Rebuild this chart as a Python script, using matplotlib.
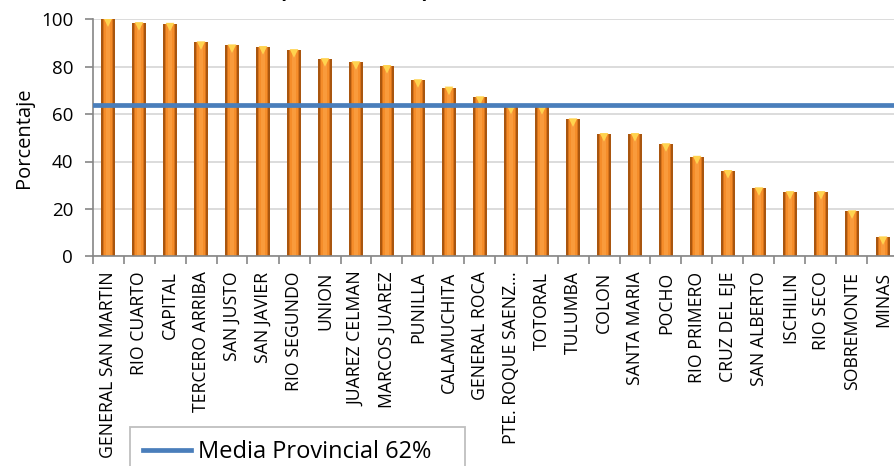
import matplotlib
matplotlib.use('Agg')
import matplotlib.pyplot as plt
from matplotlib.lines import Line2D
import numpy as np

plt.rcParams['font.family'] = ['Open Sans', 'DejaVu Sans']

# departamentos y porcentajes
departamentos = ['GENERAL SAN MARTIN', 'RIO CUARTO', 'CAPITAL', 'TERCERO ARRIBA',
                 'SAN JUSTO', 'SAN JAVIER', 'RIO SEGUNDO', 'UNION', 'JUAREZ CELMAN',
                 'MARCOS JUAREZ', 'PUNILLA', 'CALAMUCHITA', 'GENERAL ROCA',
                 'PTE. ROQUE SAENZ...', 'TOTORAL', 'TULUMBA', 'COLON', 'SANTA MARIA',
                 'POCHO', 'RIO PRIMERO', 'CRUZ DEL EJE', 'SAN ALBERTO', 'ISCHILIN',
                 'RIO SECO', 'SOBREMONTE', 'MINAS']
porcentajes = [100.0, 98.4, 98.1, 90.3, 89.0, 88.3, 87.0, 83.2, 81.9, 80.3, 74.3, 71.2,
               67.1, 63.2, 63.0, 57.8, 51.6, 51.6, 47.3, 42.0, 36.0, 28.7, 27.1, 27.1,
               19.0, 8.0]
media_valor = 64
media_label = 'Media Provincial 62%'
y_ticks = [0, 20, 40, 60, 80, 100]

W, H = 894, 466
fig = plt.figure(figsize=(W / 100, H / 100), dpi=100)
ax = fig.add_axes([92.5 / W, 1 - 256.3 / H, (898.5 - 92.5) / W, (256.3 - 19.3) / H])

x = np.arange(len(departamentos))
vals = np.array(porcentajes)

# barras tipo cilindro: capas de colores
ax.bar(x, vals, width=0.43, color='#A9560F', zorder=2)
ax.bar(x, vals, width=0.35, color='#D8731A', zorder=2)
ax.bar(x, vals, width=0.24, color='#F58D2A', zorder=2)
ax.bar(x, vals, width=0.11, color='#F99B3C', zorder=2)
# bisel amarillo arriba
ax.scatter(x, vals - 1.4, marker='v', s=38, color='#FFD34F', edgecolors='none', zorder=3)

# linea de la media
ax.axhline(media_valor, color='#4A7EBB', lw=3.4, zorder=5)

ax.set_xlim(-0.5, len(departamentos) - 0.5)
ax.set_ylim(0, 100)
ax.set_yticks(y_ticks)
ax.set_ylabel('Porcentaje', fontsize=14.5)
ax.yaxis.set_label_coords(-0.072, 0.5)

ax.set_xticks(x)
ax.set_xticklabels(departamentos, rotation=90, fontsize=12.7, va='top')
ax.set_xticks(np.arange(len(departamentos) + 1) - 0.5, minor=True)
ax.tick_params(axis='x', which='major', length=0, pad=11)
ax.tick_params(axis='x', which='minor', length=6, color='#868686', width=1.2)
ax.tick_params(axis='y', length=6, color='#868686', width=1.2, labelsize=13.5, pad=8)

ax.yaxis.grid(True, color='#D9D9D9', lw=1.3)
ax.set_axisbelow(True)
for s in ['top', 'right']:
    ax.spines[s].set_visible(False)
for s in ['left', 'bottom']:
    ax.spines[s].set_color('#868686')
    ax.spines[s].set_linewidth(1.2)

# titulo cortado arriba (solo asoman los parentesis)
fig.text(282 / W, 1 + 3 / H, '(', fontsize=16, fontweight='bold', ha='center', va='baseline')
fig.text(425 / W, 1 + 3 / H, ')', fontsize=16, fontweight='bold', ha='center', va='baseline')

leg_h = 50 / H
leg = fig.legend(handles=[Line2D([0], [0], color='#4A7EBB', lw=3.4)], labels=[media_label],
                 loc='upper left', mode='expand',
                 bbox_to_anchor=(130 / W, 1 - 427 / H - leg_h, 335 / W, leg_h),
                 borderaxespad=0, fontsize=17, handlelength=2.05, handletextpad=0.3,
                 borderpad=0.55, fancybox=False, framealpha=1, edgecolor='#BFBFBF')
leg.get_frame().set_linewidth(1.3)

fig.savefig('out.png', dpi=100)
